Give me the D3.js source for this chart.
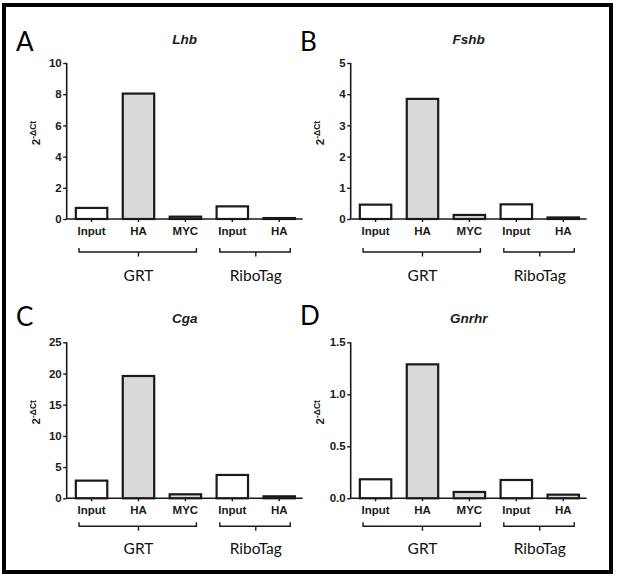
<!DOCTYPE html>
<html><head><meta charset="utf-8">
<script src="https://cdn.jsdelivr.net/npm/d3@7"></script>
<style>body{margin:0;background:#fff}svg{display:block}</style>
</head><body>
<svg id="c" width="625" height="578"></svg>
<script>
// ---- data ----
const categories = ["Input", "HA", "MYC", "Input", "HA"];
const groups = [{name: "GRT", first: 0, last: 2}, {name: "RiboTag", first: 3, last: 4}];
const lhb   = [0.71, 8.04, 0.15, 0.81, 0.06];
const fshb  = [0.46, 3.85, 0.13, 0.47, 0.05];
const cga   = [2.83, 19.6, 0.64, 3.74, 0.32];
const gnrhr = [0.183, 1.288, 0.061, 0.176, 0.035];
const ticksLhb = [0, 2, 4, 6, 8, 10];
const ticksFshb = [0, 1, 2, 3, 4, 5];
const ticksCga = [0, 5, 10, 15, 20, 25];
const ticksGnrhr = [0, 0.5, 1.0, 1.5];

const svg = d3.select("#c");
svg.append("rect").attr("x", 4).attr("y", 5).attr("width", 607).attr("height", 567)
  .attr("fill", "none").attr("stroke", "#000").attr("stroke-width", 4);

const panels = [
  {letter: "A", title: "Lhb", values: lhb, ticks: ticksLhb, fmt: d3.format("d"),
   ox: 0, oy: 0, lab: 12, br: 33, grp: 56, ly: 51},
  {letter: "B", title: "Fshb", values: fshb, ticks: ticksFshb, fmt: d3.format("d"),
   ox: 284, oy: 0, lab: 12, br: 33, grp: 56, ly: 51},
  {letter: "C", title: "Cga", values: cga, ticks: ticksCga, fmt: d3.format("d"),
   ox: 0, oy: 279.3, lab: 12, br: 28, grp: 50, ly: 47},
  {letter: "D", title: "Gnrhr", values: gnrhr, ticks: ticksGnrhr, fmt: d3.format(".1f"),
   ox: 284, oy: 279.3, lab: 12, br: 28, grp: 50, ly: 46}
];

const ink = "#1a1a1a";
const sans = "Arial, 'Liberation Sans', sans-serif";
panels.forEach(p => {
  const g = svg.append("g").attr("transform", `translate(${p.ox},${p.oy})`);
  const x0 = 66.7, y0 = 219, yTop = 63, xEnd = x0 + 236;
  const y = d3.scaleLinear().domain([0, d3.max(p.ticks)]).range([y0, yTop]);
  const x = d3.scaleBand().domain(d3.range(categories.length))
    .range([x0 + 1.4, xEnd]).paddingInner(0.33).paddingOuter(0.165);
  const cx = i => x(i) + x.bandwidth() / 2;

  // panel letter
  g.append("text").attr("x", 16).attr("y", p.ly)
    .attr("font-family", "Lato, 'Open Sans', sans-serif").attr("font-size", 26)
    .attr("fill", "#000").text(p.letter);
  // title
  g.append("text").attr("x", (x0 + xEnd) / 2).attr("y", 43.5)
    .attr("text-anchor", "middle").attr("font-family", sans)
    .attr("font-size", 13.5).attr("font-weight", "bold").attr("font-style", "italic")
    .attr("fill", ink).text(p.title);

  // bars
  g.selectAll("rect.bar").data(p.values).join("rect").attr("class", "bar")
    .attr("x", (d, i) => x(i)).attr("width", x.bandwidth())
    .attr("y", d => y(d)).attr("height", d => y0 - y(d))
    .attr("fill", (d, i) => categories[i] === "Input" ? "#ffffff" : "#d9d9d9")
    .attr("stroke", ink).attr("stroke-width", 2.2);

  // y axis
  const yAxis = d3.axisLeft(y).tickValues(p.ticks).tickFormat(p.fmt).tickSize(3.5).tickPadding(1.5);
  const ya = g.append("g").attr("transform", `translate(${x0},0)`).call(yAxis);
  ya.select(".domain").attr("stroke", ink).attr("stroke-width", 1.6).attr("d", `M0,${y0}V${yTop}`);
  ya.selectAll(".tick line").attr("stroke", ink).attr("stroke-width", 1.4);
  ya.selectAll(".tick text").attr("font-family", sans)
    .attr("font-size", 11.5).attr("font-weight", "bold").attr("fill", ink);

  // x axis
  const xAxis = d3.axisBottom(x).tickFormat(i => categories[i]).tickSize(3).tickPadding(p.lab - 7.5);
  const xa = g.append("g").attr("transform", `translate(0,${y0})`).call(xAxis);
  xa.select(".domain").attr("stroke", ink).attr("stroke-width", 1.6).attr("d", `M${x0},0H${xEnd}`);
  xa.selectAll(".tick line").attr("stroke", ink).attr("stroke-width", 1.4);
  xa.selectAll(".tick text").attr("font-family", sans)
    .attr("font-size", 11.5).attr("font-weight", "bold").attr("fill", ink);

  // y label
  const yl = g.append("text").attr("transform", `translate(40,${(y0 + yTop) / 2 - 8}) rotate(-90)`)
    .attr("text-anchor", "middle").attr("font-family", sans)
    .attr("font-weight", "bold").attr("fill", ink);
  yl.append("tspan").attr("font-size", 11.5).text("2");
  yl.append("tspan").attr("font-size", 8.5).attr("dy", -4.5).text("-ΔCt");

  // group brackets
  groups.forEach(gr => {
    const a = cx(gr.first) - 12.5, b = cx(gr.last) + 11, m = (cx(gr.first) + cx(gr.last)) / 2;
    const by = y0 + p.br;
    g.append("path").attr("d", `M${a},${by - 4}V${by}H${b}V${by - 4}M${m},${by}V${by + 4.5}`)
      .attr("fill", "none").attr("stroke", ink).attr("stroke-width", 1.4);
    g.append("text").attr("x", m).attr("y", y0 + p.grp + 5.5).attr("text-anchor", "middle")
      .attr("font-family", "Lato, 'Open Sans', sans-serif").attr("font-size", 15.5)
      .attr("fill", "#111").text(gr.name);
  });
});
</script>
</body></html>
